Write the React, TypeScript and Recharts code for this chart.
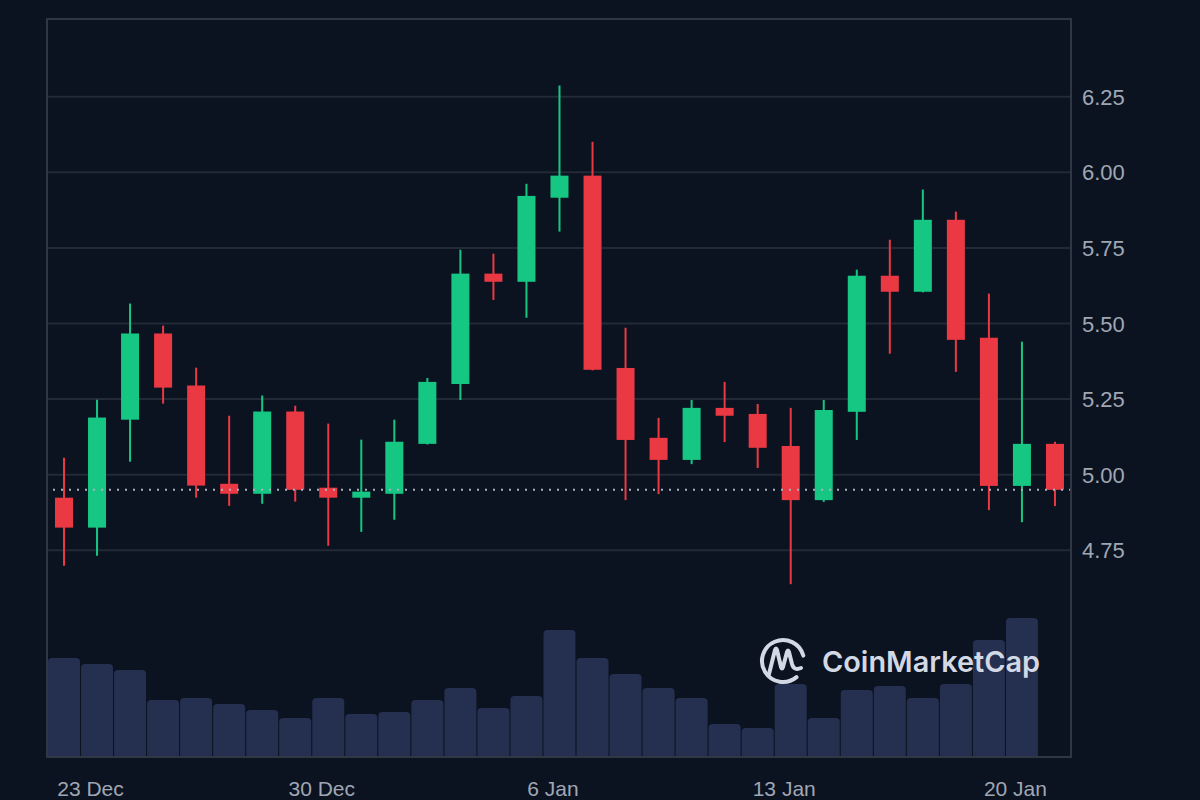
import React from 'react';
import {
  ComposedChart,
  Bar,
  XAxis,
  YAxis,
  CartesianGrid,
  ReferenceLine,
} from 'recharts';

const DATES = [
  '22 Dec', '23 Dec', '24 Dec', '25 Dec', '26 Dec', '27 Dec', '28 Dec', '29 Dec',
  '30 Dec', '31 Dec', '1 Jan', '2 Jan', '3 Jan', '4 Jan', '5 Jan', '6 Jan',
  '7 Jan', '8 Jan', '9 Jan', '10 Jan', '11 Jan', '12 Jan', '13 Jan', '14 Jan',
  '15 Jan', '16 Jan', '17 Jan', '18 Jan', '19 Jan', '20 Jan', '21 Jan',
];

const OPEN = [
  4.924, 4.825, 5.182, 5.467, 5.295, 4.970, 4.937, 5.209, 4.957, 4.924, 4.937,
  5.102, 5.300, 5.665, 5.638, 5.916, 5.989, 5.353, 5.122, 5.049, 5.221, 5.201,
  5.095, 4.916, 5.208, 5.658, 5.605, 5.843, 5.453, 4.963, 5.102,
];
const HIGH = [
  5.056, 5.248, 5.566, 5.493, 5.354, 5.195, 5.262, 5.228, 5.169, 5.116, 5.182,
  5.320, 5.744, 5.731, 5.962, 6.287, 6.101, 5.486, 5.188, 5.247, 5.307, 5.234,
  5.221, 5.247, 5.678, 5.777, 5.943, 5.870, 5.599, 5.440, 5.109,
];
const LOW = [
  4.699, 4.732, 5.043, 5.235, 4.924, 4.897, 4.904, 4.911, 4.765, 4.811, 4.851,
  5.100, 5.247, 5.578, 5.519, 5.804, 5.345, 4.916, 4.936, 5.035, 5.108, 5.022,
  4.638, 4.910, 5.115, 5.400, 5.603, 5.340, 4.883, 4.843, 4.896,
];
const CLOSE = [
  4.825, 5.189, 5.467, 5.288, 4.964, 4.937, 5.209, 4.950, 4.924, 4.944, 5.109,
  5.307, 5.665, 5.638, 5.922, 5.989, 5.347, 5.115, 5.049, 5.221, 5.195, 5.089,
  4.916, 5.214, 5.658, 5.605, 5.843, 5.446, 4.963, 5.102, 4.950,
];
// volume in millions, today's bar not in yet
const VOLUME = [
  99, 93, 87, 57, 59, 53, 47, 39, 59, 43, 45, 57, 69, 49, 61, 127, 99, 83, 69,
  59, 33, 29, 73, 39, 67, 71, 59, 73, 117, 139, null,
];

const DATE_TICKS = ['23 Dec', '30 Dec', '6 Jan', '13 Jan', '20 Jan'];
const PRICE_TICKS = [4.75, 5.0, 5.25, 5.5, 5.75, 6.0, 6.25];

const UP = '#16c784';
const DOWN = '#ea3943';
const BG = '#0b1320';
const AXIS_TEXT = '#a0a7b4';
const FONT = '"Liberation Sans", Arial, sans-serif';

const data = DATES.map((date, i) => ({
  date,
  open: OPEN[i],
  high: HIGH[i],
  low: LOW[i],
  close: CLOSE[i],
  range: [LOW[i], HIGH[i]],
  volume: VOLUME[i],
}));

const Candle = (props: any) => {
  const { x, y, width, height, payload } = props;
  if (!payload) return null;
  const { open, close, high, low } = payload;
  const top = Math.min(y, y + height);
  const span = Math.abs(height);
  const pxPerUnit = span / (high - low);
  const color = close >= open ? UP : DOWN;
  const bodyTop = top + (high - Math.max(open, close)) * pxPerUnit;
  const bodyH = Math.max(Math.abs(open - close) * pxPerUnit, 1);
  const cx = x + width / 2;
  return (
    <g>
      <rect x={cx - 1} y={top} width={2} height={span} fill={color} />
      <rect x={x} y={bodyTop} width={width} height={bodyH} fill={color} />
    </g>
  );
};

const DateTick = ({ x, y, payload }: any) => (
  <text
    x={x - 6}
    y={y + 37}
    textAnchor="middle"
    fill={AXIS_TEXT}
    fontSize={21}
    fontFamily={FONT}
  >
    {payload.value}
  </text>
);

const PriceTick = ({ x, y, payload }: any) => (
  <text
    x={x}
    y={y + 8}
    textAnchor="start"
    fill={AXIS_TEXT}
    fontSize={22}
    fontFamily={FONT}
  >
    {Number(payload.value).toFixed(2)}
  </text>
);

function Watermark() {
  return (
    <svg
      width={1200}
      height={800}
      style={{ position: 'absolute', left: 0, top: 0, pointerEvents: 'none' }}
    >
      <g
        fill="none"
        stroke="#d3d9e4"
        strokeWidth={4}
        strokeLinecap="round"
        strokeLinejoin="round"
      >
        <path d="M 803.3 655.6 A 21 21 0 1 0 796.5 677.1" />
        <path d="M 769 674 L 775 650 Q 776 647 777 650 L 781 667 Q 782 670 783 667 L 787 652 Q 788 649 789 652 L 792 664 Q 794 671 801 668" />
      </g>
      <text
        x={822}
        y={672}
        fill="#d3d9e4"
        fontSize={29}
        fontWeight={600}
        fontFamily="Inter, 'Open Sans', sans-serif"
        textLength={218}
        lengthAdjust="spacingAndGlyphs"
      >
        CoinMarketCap
      </text>
    </svg>
  );
}

export default function App() {
  return (
    <div
      style={{
        position: 'absolute',
        left: 0,
        top: 0,
        width: 1200,
        height: 800,
        background: BG,
        overflow: 'hidden',
      }}
    >
      <ComposedChart
        width={1200}
        height={800}
        data={data}
        margin={{ top: 19, right: 0, bottom: 0, left: 47 }}
      >
        <XAxis
          xAxisId="price"
          dataKey="date"
          ticks={DATE_TICKS}
          interval={0}
          axisLine={false}
          tickLine={false}
          tickSize={0}
          height={43}
          tick={<DateTick />}
        />
        <XAxis xAxisId="vol" dataKey="date" hide />
        <YAxis
          yAxisId="price"
          orientation="right"
          domain={[4.0665, 6.507]}
          ticks={PRICE_TICKS}
          allowDataOverflow
          axisLine={false}
          tickLine={false}
          tickSize={0}
          tickMargin={11}
          width={129}
          tick={<PriceTick />}
        />
        <YAxis yAxisId="vol" domain={[0, 738]} hide allowDataOverflow />
        <CartesianGrid
          xAxisId="price"
          yAxisId="price"
          vertical={false}
          stroke="#222a36"
          strokeWidth={2}
        />
        <ReferenceLine
          xAxisId="price"
          yAxisId="price"
          y={CLOSE[CLOSE.length - 1]}
          stroke="#a9b1bf"
          strokeWidth={2}
          strokeDasharray="2 6"
        />
        <Bar
          xAxisId="vol"
          yAxisId="vol"
          dataKey="volume"
          fill="#252f4f"
          barSize={32}
          radius={[4, 4, 0, 0]}
          isAnimationActive={false}
        />
        <Bar
          xAxisId="price"
          yAxisId="price"
          dataKey="range"
          barSize={18}
          shape={<Candle />}
          isAnimationActive={false}
        />
      </ComposedChart>
      <div
        style={{
          position: 'absolute',
          left: 46,
          top: 18,
          width: 1026,
          height: 740,
          boxSizing: 'border-box',
          border: '2px solid #2f3743',
          pointerEvents: 'none',
        }}
      />
      <Watermark />
    </div>
  );
}
